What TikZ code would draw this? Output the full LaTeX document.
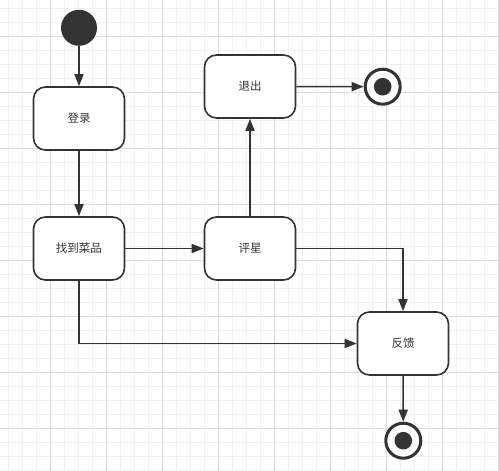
\documentclass[tikz,border=0pt]{standalone}
\usepackage{fontspec}
\newfontfamily\cjk{Noto Sans CJK SC}
\usetikzlibrary{arrows.meta}
\definecolor{ink}{HTML}{333333}
\definecolor{gridmajor}{HTML}{DCDCDC}
\definecolor{gridminor}{HTML}{F0F0F0}
\begin{document}
\begin{tikzpicture}[x=1pt, y=-1pt,
  state/.style={draw=ink, line width=1.6pt, fill=white, rounded corners=12pt,
    minimum width=91pt, minimum height=63pt, font=\cjk\fontsize{11.5}{13}\selectfont, text=ink},
  flow/.style={draw=ink, line width=1.6pt, -{Triangle[length=12pt,width=9pt]}}]

\useasboundingbox (0,0) rectangle (499,471);
\fill[white] (0,0) rectangle (499,471);

% grid
\foreach \gx in {8.7,22.7,...,499} \draw[gridminor, line width=0.8pt] (\gx,0) -- (\gx,471);
\foreach \gy in {8.3,22.3,...,471} \draw[gridminor, line width=0.8pt] (0,\gy) -- (499,\gy);
\foreach \gx in {50.7,106.7,...,499} \draw[gridmajor, line width=0.8pt] (\gx,0) -- (\gx,471);
\foreach \gy in {36.3,92.3,...,471} \draw[gridmajor, line width=0.8pt] (0,\gy) -- (499,\gy);

\node[circle, fill=ink, minimum size=36pt, inner sep=0] (start) at (79,27.8) {};

\node[state] (login) at (79,118.5) {登录};
\node[state] (find) at (79,248.5) {找到菜品};
\node[state] (rate) at (250,248.5) {评星};
\node[state] (quit) at (250,86.5) {退出};
\node[state] (fb) at (403,343.5) {反馈};

\node[circle, draw=ink, line width=3pt, fill=white, minimum size=35pt, inner sep=0] (endA) at (382.7,86.7) {};
\fill[ink] (endA) circle (8.8pt);
\node[circle, draw=ink, line width=3pt, fill=white, minimum size=35pt, inner sep=0] (endB) at (403.3,440.7) {};
\fill[ink] (endB) circle (8.8pt);

\draw[flow] (start) -- (login);
\draw[flow] (login) -- (find);
\draw[flow] (find) -- (rate);
\draw[flow] (rate) -- (quit);
\draw[flow] (quit) -- (endA);
\draw[flow] (rate.east) -| (fb.north);
\draw[flow] (find.south) |- (fb.west);
\draw[flow] (fb) -- (endB);

\end{tikzpicture}
\end{document}
